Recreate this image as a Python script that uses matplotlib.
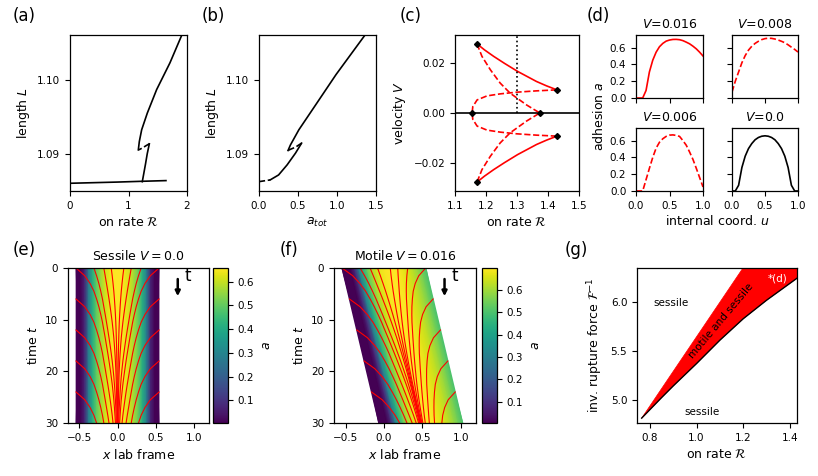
import numpy as np
import matplotlib.pyplot as plt
from matplotlib.colors import Normalize

plt.rcParams['font.family'] = 'DejaVu Sans'
plt.rcParams['font.size'] = 9
plt.rcParams['xtick.labelsize'] = 7.5
plt.rcParams['ytick.labelsize'] = 7.5
plt.rcParams['axes.linewidth'] = 0.9

# ---------------- data ----------------
# (a) cell length vs on rate
a_low_R = [0.0, 0.4, 0.8, 1.2, 1.64]
a_low_L = [1.08604, 1.08612, 1.0862, 1.0863, 1.0864]
a_mid_R = [1.236, 1.26, 1.29, 1.32, 1.356]
a_mid_L = [1.08626, 1.0873, 1.0886, 1.0900, 1.09135]
a_unst_R = [1.356, 1.30, 1.24, 1.19, 1.168]
a_unst_L = [1.09135, 1.0911, 1.0908, 1.0906, 1.09054]
a_up_R = [1.168, 1.185, 1.225, 1.322, 1.481, 1.709, 1.909, 1.95]
a_up_L = [1.09054, 1.09166, 1.09324, 1.0955, 1.09865, 1.10226, 1.10595, 1.1067]

# (b) cell length vs total adhesion
b_dash_A = [0.0, 0.143]
b_dash_L = [1.08626, 1.08649]
b_low_A = [0.143, 0.251, 0.360, 0.468, 0.546]
b_low_L = [1.08649, 1.08716, 1.08851, 1.0901, 1.09144]
b_unst_A = [0.546, 0.468, 0.40, 0.372]
b_unst_L = [1.09144, 1.0909, 1.0906, 1.09045]
b_up_A = [0.372, 0.403, 0.511, 0.728, 0.988, 1.356, 1.39]
b_up_L = [1.09045, 1.0912, 1.09324, 1.09662, 1.10068, 1.10595, 1.10648]

# (c) velocity branches (upper half, mirrored for V<0)
c_stab_R = [1.171, 1.195, 1.2245, 1.26, 1.302, 1.3628, 1.395, 1.4287]
c_stab_V = [0.02747, 0.0251, 0.02253, 0.0197, 0.01653, 0.01253, 0.0108, 0.0092]
c_cross_R = [1.171, 1.187, 1.214, 1.2457, 1.2777, 1.3309, 1.3734]
c_cross_V = [0.02747, 0.0225, 0.0172, 0.0119, 0.0079, 0.0032, 0.0]
c_loop_R = [1.4287, 1.3628, 1.299, 1.2457, 1.2032, 1.1713, 1.1574, 1.1553]
c_loop_V = [0.0092, 0.0088, 0.00827, 0.0076, 0.0068, 0.0052, 0.00253, 0.0]
c_pts_R = [1.171, 1.4287, 1.1553, 1.3734, 1.4287, 1.171]
c_pts_V = [0.02747, 0.0092, 0.0, 0.0, -0.0092, -0.02747]
R_marked = 1.3

# (d) adhesion profiles a(u)
u_grid = np.linspace(0, 1, 21)
prof_016 = [0, 0, 0, 0.09, 0.31, 0.45, 0.545, 0.61, 0.65, 0.677, 0.69,
            0.697, 0.698, 0.694, 0.683, 0.665, 0.645, 0.617, 0.585, 0.545, 0.50]
prof_008 = [0.07, 0.2, 0.31, 0.42, 0.505, 0.57, 0.616, 0.65, 0.675, 0.695, 0.707,
            0.712, 0.71, 0.702, 0.69, 0.675, 0.658, 0.633, 0.605, 0.578, 0.547]
prof_006 = [0, 0, 0, 0.135, 0.27, 0.40, 0.51, 0.58, 0.622, 0.65, 0.665,
            0.668, 0.662, 0.65, 0.60, 0.545, 0.464, 0.376, 0.27, 0.159, 0.048]
prof_000 = [0, 0, 0.068, 0.28, 0.415, 0.505, 0.565, 0.61, 0.637, 0.652, 0.657,
            0.652, 0.637, 0.61, 0.565, 0.505, 0.415, 0.28, 0.068, 0, 0]

# (e),(f) kymographs
t_range = [0, 30]
L_sessile, V_sessile = 1.086, 0.0
L_motile, V_motile = 1.094, 0.016
# distance of a flow line from the cell centre, every 1.5 time units after it leaves the edge
edge_track = [0.545, 0.43, 0.36, 0.31, 0.275, 0.245, 0.22, 0.198,
              0.18, 0.162, 0.145, 0.128, 0.112, 0.097, 0.083, 0.070, 0.059,
              0.049, 0.041, 0.034, 0.028, 0.023, 0.019, 0.016, 0.013, 0.011,
              0.009, 0.0075, 0.0062, 0.0052, 0.0043, 0.0036, 0.003, 0.0025, 0.002]
track_dt = 1.5
line_births = [-21, -12, -4.5, 0, 6, 12, 18, 24]

# (g) phase diagram
g_upper_R = [0.765, 0.9, 1.0, 1.1, 1.2, 1.215]
g_upper_F = [4.81, 5.29, 5.645, 6.0, 6.355, 6.41]
g_lower_R = [0.765, 0.85, 0.9, 1.0, 1.1, 1.2, 1.3, 1.45]
g_lower_F = [4.81, 5.02, 5.14, 5.37, 5.61, 5.83, 6.02, 6.28]

# ---------------- layout ----------------
W, H = 818, 476
fig = plt.figure(figsize=(W / 100, H / 100), dpi=100)


def box(l, t, r, b):
    return [l / W, 1 - b / H, (r - l) / W, (b - t) / H]


def letter(x, y, s):
    fig.text(x / W, 1 - y / H, s, fontsize=12, va='center', ha='left')


# (a)
ax = fig.add_axes(box(70, 35, 187, 191))
ax.plot(a_low_R, a_low_L, 'k', lw=1.2)
ax.plot(a_mid_R, a_mid_L, 'k', lw=1.2)
ax.plot(a_unst_R, a_unst_L, 'k--', lw=1.2)
ax.plot(a_up_R, a_up_L, 'k', lw=1.2)
ax.set_xlim(0, 2)
ax.set_ylim(1.085, 1.106)
ax.set_xticks([0, 1, 2])
ax.set_yticks([1.09, 1.10])
ax.set_xlabel(r'on rate $\mathcal{R}$')
ax.set_ylabel('length $L$')
letter(13, 16, '(a)')

# (b)
ax = fig.add_axes(box(259, 35, 376, 191))
ax.plot(b_dash_A, b_dash_L, 'k--', lw=1.2)
ax.plot(b_low_A, b_low_L, 'k', lw=1.2)
ax.plot(b_unst_A, b_unst_L, 'k--', lw=1.2)
ax.plot(b_up_A, b_up_L, 'k', lw=1.2)
ax.set_xlim(0, 1.5)
ax.set_ylim(1.085, 1.106)
ax.set_xticks([0, 0.5, 1.0, 1.5])
ax.set_yticks([1.09, 1.10])
ax.set_xlabel('$a_{tot}$')
ax.set_ylabel('length $L$')
letter(202, 16, '(b)')

# (c)
ax = fig.add_axes(box(455, 35, 579, 191))
ax.axhline(0, color='k', lw=1.2)
for s in (1, -1):
    ax.plot(c_stab_R, s * np.array(c_stab_V), color='red', lw=1.2)
    ax.plot(c_cross_R, s * np.array(c_cross_V), color='red', ls='--', lw=1.2)
    ax.plot(c_loop_R, s * np.array(c_loop_V), color='red', ls='--', lw=1.2)
ax.plot(c_pts_R, c_pts_V, 'kD', ms=3, ls='none')
ax.axvline(R_marked, ymin=0.5, ymax=1, color='k', ls=':', lw=1.2)
ax.set_xlim(1.1, 1.5)
ax.set_ylim(-0.031, 0.031)
ax.set_xticks([1.1, 1.2, 1.3, 1.4, 1.5])
ax.set_yticks([-0.02, 0.0, 0.02])
ax.set_xlabel(r'on rate $\mathcal{R}$')
ax.set_ylabel('velocity $V$')
letter(400, 16, '(c)')

# (d)
d_specs = [
    (box(636, 35, 703, 98), prof_016, 'red', '-', '$V$=0.016', True, False),
    (box(732, 35, 798, 98), prof_008, 'red', '--', '$V$=0.008', False, False),
    (box(636, 128, 703, 191), prof_006, 'red', '--', '$V$=0.006', True, True),
    (box(732, 128, 798, 191), prof_000, 'k', '-', '$V$=0.0', False, True),
]
for pos, prof, col, ls, title, ylab, xlab in d_specs:
    ax = fig.add_axes(pos)
    ax.plot(u_grid, prof, color=col, ls=ls, lw=1.2)
    ax.set_xlim(0, 1)
    ax.set_ylim(0, 0.75)
    ax.set_xticks([0, 0.5, 1.0])
    ax.set_yticks([0, 0.2, 0.4, 0.6])
    if not ylab:
        ax.set_yticklabels([])
    if not xlab:
        ax.set_xticklabels([])
    ax.set_title(title, fontsize=9, pad=5)
fig.text(599 / W, 1 - 116 / H, 'adhesion $a$', rotation=90, va='center', ha='center')
fig.text(717 / W, 1 - 221 / H, 'internal coord. $u$', va='center', ha='center')
letter(587, 16, '(d)')


# (e), (f) kymographs
def kymo(rect, crect, prof, L, V, title, lab):
    ax = fig.add_axes(box(*rect))
    t = np.array(t_range, dtype=float)
    u = np.asarray(u_grid)
    X = -L / 2 + V * t[:, None] + u[None, :] * L
    T = np.repeat(t[:, None], len(u), axis=1)
    C = np.repeat(np.array(prof)[None, :], len(t), axis=0)
    norm = Normalize(vmin=0.005, vmax=max(prof))
    mesh = ax.pcolormesh(X, T, C, shading='gouraud', cmap='viridis', norm=norm)
    tt = np.arange(len(edge_track)) * track_dt
    track = np.array(edge_track)
    for side in (-1, 1):
        for b in line_births:
            tl = b + tt
            m = (tl >= t_range[0] - 1e-9) & (tl <= t_range[1] + 1e-9)
            ax.plot(side * track[m] + V * tl[m], tl[m], color='red', lw=0.8)
    ax.annotate('', xy=(0.79, 6.0), xytext=(0.79, 1.6),
                arrowprops=dict(arrowstyle='-|>', color='k', lw=1.8, mutation_scale=7))
    ax.text(0.88, 1.6, 't', fontsize=12, va='center', ha='left')
    ax.set_xlim(-0.65, 1.2)
    ax.set_ylim(30, 0)
    ax.set_xticks([-0.5, 0.0, 0.5, 1.0])
    ax.set_yticks([0, 10, 20, 30])
    ax.set_xlabel('$x$ lab frame')
    ax.set_ylabel('time $t$')
    ax.set_title(title, fontsize=9)
    cax = fig.add_axes(box(*crect))
    cb = fig.colorbar(mesh, cax=cax)
    cb.set_label('$a$')
    cb.ax.tick_params(labelsize=7.5)
    letter(lab[1], lab[2], lab[0])


kymo((68, 268, 209, 423), (213, 268, 228, 423), prof_000, L_sessile, V_sessile,
     'Sessile $V=0.0$', ('(e)', 13, 250))
kymo((334, 268, 476, 423), (482, 268, 497, 423), prof_016, L_motile, V_motile,
     'Motile $V=0.016$', ('(f)', 280, 250))

# (g)
ax = fig.add_axes(box(637, 268, 797, 423))
poly_R = g_lower_R + [g_lower_R[-1]] + g_upper_R[::-1]
poly_F = g_lower_F + [g_upper_F[-1]] + g_upper_F[::-1]
ax.fill(poly_R, poly_F, color='red', lw=0.5)
ax.plot(g_lower_R, g_lower_F, 'k', lw=1.0)
ax.text(0.89, 5.99, 'sessile', fontsize=7.5, ha='center', va='center')
ax.text(1.025, 4.87, 'sessile', fontsize=7.5, ha='center', va='center')
ax.text(1.105, 5.81, 'motile and sessile', fontsize=7.5, ha='center', va='center',
        rotation=50)
ax.text(1.345, 6.24, '*(d)', fontsize=7.5, ha='center', va='center', color='white')
ax.set_xlim(0.745, 1.43)
ax.set_ylim(4.76, 6.35)
ax.set_xticks([0.8, 1.0, 1.2, 1.4])
ax.set_yticks([5.0, 5.5, 6.0])
ax.set_xlabel(r'on rate $\mathcal{R}$')
ax.set_ylabel(r'inv. rupture force $\mathcal{F}^{-1}$')
letter(565, 250, '(g)')

fig.savefig('out.png', dpi=100)
